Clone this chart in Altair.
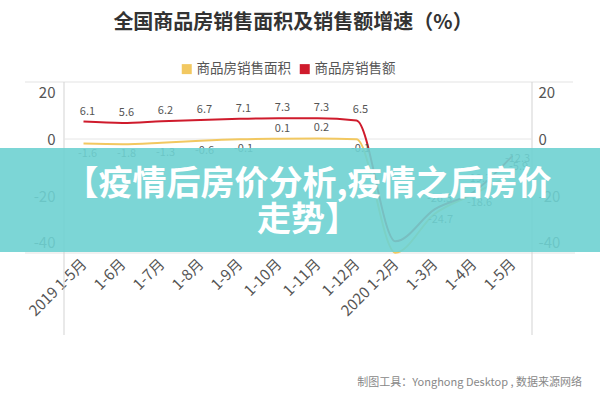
import altair as alt
import pandas as pd

# ---- data ----
categories = ["2019 1-5月", "1-6月", "1-7月", "1-8月", "1-9月", "1-10月",
              "1-11月", "1-12月", "2020 1-2月", "1-3月", "1-4月", "1-5月"]
area_growth = [-1.6, -1.8, -1.3, -0.6, -0.1, 0.1, 0.2, -0.1, -39.9, -26.3, -19.3, -12.3]
amount_growth = [6.1, 5.6, 6.2, 6.7, 7.1, 7.3, 7.3, 6.5, -35.9, -24.7, -18.6, -5.9]
series_names = ["商品房销售面积", "商品房销售额"]
y_ticks = [20, 0, -20, -40]

title_text = "全国商品房销售面积及销售额增速（%）"
footer_text = "制图工具：Yonghong Desktop , 数据来源网络"
banner_line1 = "【疫情后房价分析,疫情之后房价"
banner_line2 = "走势】"

YELLOW = "#F2C861"
RED = "#CF1B2C"
FONT = "Noto Sans CJK SC"

rows = []
for i, (a, m) in enumerate(zip(area_growth, amount_growth)):
    if i < 8:
        pa = "above" if a >= 0 else "below"
        pm = "above"
    else:
        pa = "above2"
        pm = "below2"
    rows.append({"idx": i, "series": series_names[0], "value": a, "pos": pa,
                 "label": f"{a:.1f}", "hidden": i == 8})
    rows.append({"idx": i, "series": series_names[1], "value": m, "pos": pm,
                 "label": f"{m:.1f}", "hidden": i == 8})
df = pd.DataFrame(rows)
one = pd.DataFrame({"a": [0]})

W, H = 468, 171
label_expr = "[" + ",".join("'%s'" % c for c in categories) + "][datum.value]"

x_enc = alt.X("idx:O", scale=alt.Scale(type="point", padding=0.5),
              axis=alt.Axis(title=None, labelExpr=label_expr, labelAngle=315,
                            labelAlign="right", labelBaseline="middle",
                            labelFontSize=15, labelColor="#555555", labelFont=FONT,
                            labelPadding=8, domain=False, ticks=False, grid=False))


def yscale():
    return alt.Scale(domain=[-40, 20], nice=False, zero=False)


def yaxis(orient, pad):
    return alt.Axis(title=None, orient=orient, values=y_ticks, labelFlush=True,
                    labelFlushOffset=-3, labelExpr="datum.value + ''",
                    labelFontSize=15, labelColor="#555555", labelFont=FONT,
                    labelPadding=pad, domain=False, ticks=False, grid=False)


# decorative frame lines
top_line = alt.Chart(one).mark_rule(color="#e3e3e3", strokeWidth=1).encode(
    x=alt.value(-39), x2=alt.value(509), y=alt.value(0))
bottom_line = alt.Chart(one).mark_rule(color="#e3e3e3", strokeWidth=1).encode(
    x=alt.value(-39), x2=alt.value(511), y=alt.value(H))
left_line = alt.Chart(one).mark_rule(color="#d3d3d3", strokeWidth=1).encode(
    x=alt.value(0), y=alt.value(0), y2=alt.value(253))
right_line = alt.Chart(one).mark_rule(color="#d3d3d3", strokeWidth=1).encode(
    x=alt.value(W), y=alt.value(0), y2=alt.value(253))
zero_line = alt.Chart(one).mark_rule(color="#e6e6e6", strokeWidth=1).encode(
    x=alt.value(0), x2=alt.value(W), y=alt.YDatum(0, scale=yscale(), axis=None))

lines = alt.Chart(df).mark_line(interpolate="monotone", strokeWidth=2).encode(
    x=x_enc,
    y=alt.Y("value:Q", scale=yscale(), axis=yaxis("left", 9)),
    color=alt.Color("series:N",
                    scale=alt.Scale(domain=series_names, range=[YELLOW, RED]),
                    legend=alt.Legend(title=None, orient="none", direction="horizontal",
                                      legendX=116, legendY=-20, symbolType="square",
                                      symbolSize=25, symbolStrokeWidth=5,
                                      labelFontSize=13.5, labelColor="#555555",
                                      labelFont=FONT, labelOffset=3, columnPadding=1)),
    detail="series:N")

right_axis = alt.Chart(df).mark_line(opacity=0).encode(
    x=x_enc,
    y=alt.Y("value:Q", scale=yscale(), axis=yaxis("right", 6)),
    detail="series:N")


def label_layer(pos, baseline, dy, dx=4):
    return alt.Chart(df).transform_filter(
        (alt.datum.pos == pos) & (alt.datum.hidden == False)
    ).mark_text(baseline=baseline, dy=dy, dx=dx, fontSize=11, color="#555555",
                font=FONT).encode(
        x=x_enc, y=alt.Y("value:Q", scale=yscale(), axis=None),
        text="label:N")


labels = [label_layer("above", "bottom", -5), label_layer("below", "top", 4),
          label_layer("above2", "bottom", -10, 5), label_layer("below2", "top", 5, 6)]

banner = alt.Chart(one).mark_rect(color="#6ed2d2", opacity=0.9).encode(
    x=alt.value(-64), x2=alt.value(536), y=alt.value(66), y2=alt.value(170))
banner_t1 = alt.Chart(one).mark_text(text=banner_line1, fontSize=34, fontWeight="bold",
                                      color="white", font=FONT, align="center",
                                      baseline="middle").encode(
    x=alt.value(244), y=alt.value(103))
banner_t2 = alt.Chart(one).mark_text(text=banner_line2, fontSize=34, fontWeight="bold",
                                      color="white", font=FONT, align="center",
                                      baseline="middle").encode(
    x=alt.value(244), y=alt.value(139))

title = alt.Chart(one).mark_text(text=title_text, fontSize=20, fontWeight="bold",
                                  color="#333333", font=FONT, align="center",
                                  baseline="middle").encode(
    x=alt.value(229), y=alt.value(-59))
footer = alt.Chart(one).mark_text(text=footer_text, fontSize=11, color="#888888",
                                   font=FONT, align="right", baseline="middle").encode(
    x=alt.value(518), y=alt.value(301))

chart = alt.layer(
    top_line, bottom_line, left_line, right_line, zero_line,
    lines, right_axis, *labels,
    banner, banner_t1, banner_t2, title, footer
).resolve_scale(y="independent").properties(
    width=W, height=H,
    autosize=alt.AutoSizeParams(type="none"),
    padding={"left": 64, "top": 82, "right": 68, "bottom": 147},
    background="white"
).configure_view(stroke=None)

chart.save("out.html", embed_options={"renderer": "svg", "actions": False})
